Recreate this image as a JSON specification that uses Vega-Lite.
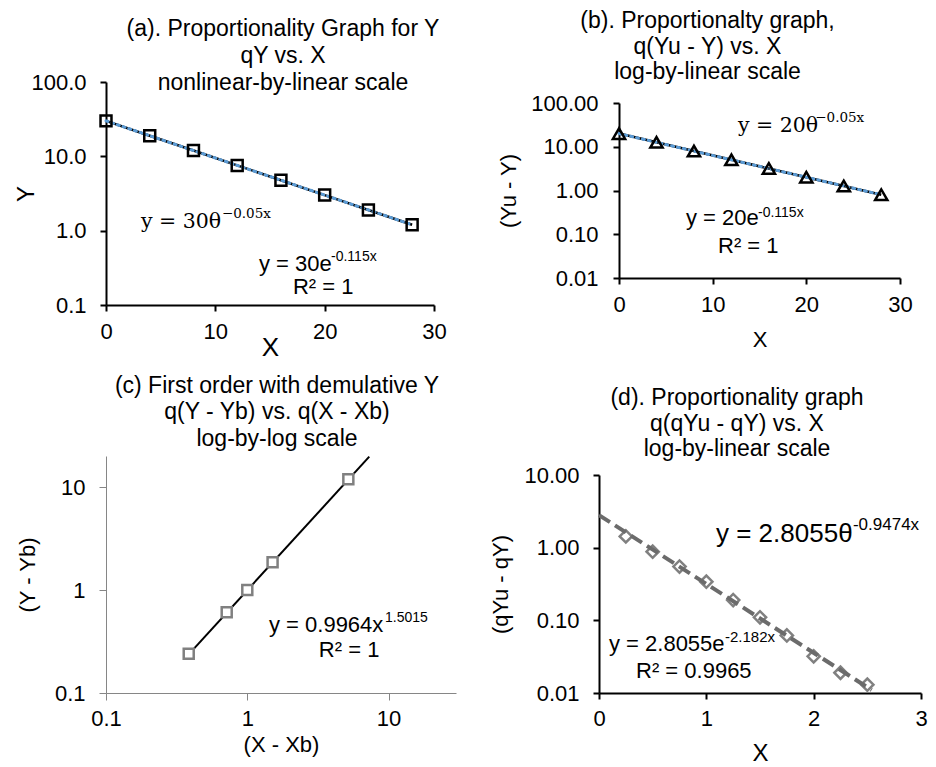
{
  "$schema": "https://vega.github.io/schema/vega-lite/v6.json",
  "background": "white",
  "padding": {"left": 14, "top": 10, "right": 5, "bottom": 5},
  "config": {
    "font": "Liberation Sans",
    "view": {"stroke": null},
    "axis": {"grid": false, "domainColor": "#000", "tickColor": "#000", "labelColor": "#000", "titleColor": "#000", "labelFontSize": 22, "titleFontSize": 22, "titleFontWeight": "normal", "domainWidth": 2, "tickWidth": 2, "tickSize": 6, "labelFlush": false, "labelOverlap": false},
    "title": {"fontSize": 23, "fontWeight": "normal", "color": "#000"}
  },
  "datasets": {
    "a_pts": [{"x": 0, "y": 30}, {"x": 4, "y": 18.94}, {"x": 8, "y": 11.96}, {"x": 12, "y": 7.55}, {"x": 16, "y": 4.77}, {"x": 20, "y": 3.01}, {"x": 24, "y": 1.9}, {"x": 28, "y": 1.2}],
    "b_pts": [{"x": 0, "y": 20}, {"x": 4, "y": 12.63}, {"x": 8, "y": 7.97}, {"x": 12, "y": 5.03}, {"x": 16, "y": 3.18}, {"x": 20, "y": 2.01}, {"x": 24, "y": 1.27}, {"x": 28, "y": 0.8}],
    "c_pts": [{"x": 0.385, "y": 0.24}, {"x": 0.715, "y": 0.607}, {"x": 1.0, "y": 1.0}, {"x": 1.51, "y": 1.86}, {"x": 5.19, "y": 11.9}],
    "c_fit": [{"x": 0.385, "y": 0.2375}, {"x": 7.3, "y": 19.7}],
    "d_pts": [{"x": 0.25, "y": 1.43}, {"x": 0.5, "y": 0.88}, {"x": 0.75, "y": 0.55}, {"x": 1.0, "y": 0.34}, {"x": 1.25, "y": 0.19}, {"x": 1.5, "y": 0.11}, {"x": 1.75, "y": 0.062}, {"x": 2.0, "y": 0.032}, {"x": 2.25, "y": 0.019}, {"x": 2.5, "y": 0.013}],
    "d_fit": [{"x": 0, "y": 2.8055}, {"x": 2.54, "y": 0.011}],
    "a_sans": [{"x": 13.99, "y": 0.2866, "t": "y = 30e", "k": "m"}, {"x": 20.58, "y": 0.391, "t": "-0.115x", "k": "s"}, {"x": 17.1, "y": 0.1406, "t": "R² = 1", "k": "m"}],
    "a_serif": [{"x": 3.2, "y": 1.086, "t": "y = 30θ", "k": "m"}, {"x": 10.6, "y": 1.48, "t": "−0.05x", "k": "s"}],
    "b_sans": [{"x": 7.15, "y": 0.1627, "t": "y = 20e", "k": "m"}, {"x": 14.84, "y": 0.248, "t": "-0.115x", "k": "s"}, {"x": 10.57, "y": 0.0373, "t": "R² = 1", "k": "m"}],
    "b_serif": [{"x": 12.7, "y": 21.7, "t": "y = 20θ", "k": "m"}, {"x": 20.95, "y": 36.8, "t": "−0.05x", "k": "s"}],
    "c_sans": [{"x": 1.424, "y": 0.391, "t": "y = 0.9964x", "k": "m"}, {"x": 9.43, "y": 0.489, "t": "1.5015", "k": "s"}, {"x": 3.21, "y": 0.224, "t": "R² = 1", "k": "m"}],
    "d_sans": [{"x": 0.093, "y": 0.0379, "t": "y = 2.8055e", "k": "m"}, {"x": 1.174, "y": 0.0504, "t": "-2.182x", "k": "s"}, {"x": 0.345, "y": 0.0161, "t": "R² = 0.9965", "k": "m"}, {"x": 1.09, "y": 1.197, "t": "y = 2.8055θ", "k": "M"}, {"x": 2.366, "y": 1.75, "t": "-0.9474x", "k": "S"}]
  },
  "columns": 2,
  "align": "all",
  "bounds": "flush",
  "spacing": {"row": 137, "column": 143},
  "concat": [
    {
      "width": 328, "height": 223,
      "title": {"text": ["(a). Proportionality Graph for Y", "qY vs. X", "nonlinear-by-linear scale"], "lineHeight": 27, "frame": "group", "dx": 13, "offset": -24},
      "encoding": {
        "x": {"field": "x", "type": "quantitative", "scale": {"domain": [0, 30], "nice": false, "zero": false}, "axis": {"values": [0, 10, 20, 30], "title": "X", "titleFontSize": 26, "labelPadding": 10, "titlePadding": -8}},
        "y": {"field": "y", "type": "quantitative", "scale": {"type": "log", "domain": [0.1, 100], "nice": false}, "axis": {"values": [0.1, 1, 10, 100], "format": ".1f", "title": "Y", "titleFontSize": 24, "labelPadding": 14, "titlePadding": -8}}
      },
      "layer": [
        {"data": {"name": "a_pts"}, "mark": {"type": "line", "color": "#000", "strokeWidth": 2.5}},
        {"data": {"name": "a_pts"}, "mark": {"type": "line", "color": "#5B9BD5", "strokeWidth": 3, "strokeDash": [2, 4], "strokeCap": "round"}},
        {"data": {"name": "a_pts"}, "mark": {"type": "point", "shape": "square", "size": 120, "stroke": "#000", "strokeWidth": 2.5, "filled": false, "opacity": 1}},
        {"data": {"name": "a_sans"}, "transform": [{"filter": "datum.k == 'm'"}], "mark": {"type": "text", "align": "left", "baseline": "alphabetic", "fontSize": 22, "color": "#000"}, "encoding": {"text": {"field": "t"}}},
        {"data": {"name": "a_sans"}, "transform": [{"filter": "datum.k == 's'"}], "mark": {"type": "text", "align": "left", "baseline": "alphabetic", "fontSize": 14, "color": "#000"}, "encoding": {"text": {"field": "t"}}},
        {"data": {"name": "a_serif"}, "transform": [{"filter": "datum.k == 'm'"}], "mark": {"type": "text", "align": "left", "baseline": "alphabetic", "fontSize": 20.5, "font": "DejaVu Serif", "color": "#000"}, "encoding": {"text": {"field": "t"}}},
        {"data": {"name": "a_serif"}, "transform": [{"filter": "datum.k == 's'"}], "mark": {"type": "text", "align": "left", "baseline": "alphabetic", "fontSize": 13.5, "font": "DejaVu Serif", "color": "#000"}, "encoding": {"text": {"field": "t"}}}
      ]
    },
    {
      "width": 301, "height": 196,
      "title": {"text": ["(b). Proportionalty graph,", "q(Yu - Y) vs. X", "log-by-linear scale"], "lineHeight": 25.5, "frame": "group", "dx": -42, "offset": -2},
      "encoding": {
        "x": {"field": "x", "type": "quantitative", "scale": {"domain": [0, 30], "nice": false, "zero": false, "range": [20, 301]}, "axis": {"values": [0, 10, 20, 30], "title": "X", "labelPadding": 10, "titlePadding": 14}},
        "y": {"field": "y", "type": "quantitative", "scale": {"type": "log", "domain": [0.01, 100], "nice": false, "range": [196, 21]}, "axis": {"values": [0.01, 0.1, 1, 10, 100], "format": ".2f", "title": "(Yu - Y)", "labelPadding": 15, "titlePadding": 10, "offset": -20}}
      },
      "layer": [
        {"data": {"name": "b_pts"}, "mark": {"type": "line", "color": "#000", "strokeWidth": 2.5}},
        {"data": {"name": "b_pts"}, "mark": {"type": "line", "color": "#5B9BD5", "strokeWidth": 3, "strokeDash": [2, 4], "strokeCap": "round"}},
        {"data": {"name": "b_pts"}, "mark": {"type": "point", "shape": "triangle-up", "size": 150, "stroke": "#000", "strokeWidth": 2.5, "filled": false, "opacity": 1}},
        {"data": {"name": "b_sans"}, "transform": [{"filter": "datum.k == 'm'"}], "mark": {"type": "text", "align": "left", "baseline": "alphabetic", "fontSize": 22, "color": "#000"}, "encoding": {"text": {"field": "t"}}},
        {"data": {"name": "b_sans"}, "transform": [{"filter": "datum.k == 's'"}], "mark": {"type": "text", "align": "left", "baseline": "alphabetic", "fontSize": 14, "color": "#000"}, "encoding": {"text": {"field": "t"}}},
        {"data": {"name": "b_serif"}, "transform": [{"filter": "datum.k == 'm'"}], "mark": {"type": "text", "align": "left", "baseline": "alphabetic", "fontSize": 20.5, "font": "DejaVu Serif", "color": "#000"}, "encoding": {"text": {"field": "t"}}},
        {"data": {"name": "b_serif"}, "transform": [{"filter": "datum.k == 's'"}], "mark": {"type": "text", "align": "left", "baseline": "alphabetic", "fontSize": 13.5, "font": "DejaVu Serif", "color": "#000"}, "encoding": {"text": {"field": "t"}}}
      ]
    },
    {
      "width": 350, "height": 237,
      "title": {"text": ["(c) First order with demulative Y", "q(Y - Yb) vs. q(X - Xb)", "log-by-log scale"], "lineHeight": 26.5, "frame": "group", "dx": -4, "offset": 2},
      "encoding": {
        "x": {"field": "x", "type": "quantitative", "scale": {"type": "log", "domain": [0.1, 30], "nice": false}, "axis": {"values": [0.1, 1, 10], "format": "~g", "title": "(X - Xb)", "domainColor": "#868686", "tickColor": "#868686", "domainWidth": 1, "tickWidth": 1, "tickSize": 7, "labelPadding": 8, "titlePadding": 5}},
        "y": {"field": "y", "type": "quantitative", "scale": {"type": "log", "domain": [0.1, 20], "nice": false}, "axis": {"values": [0.1, 1, 10], "format": "~g", "title": "(Y - Yb)", "domainColor": "#868686", "tickColor": "#868686", "domainWidth": 1, "tickWidth": 1, "tickSize": 7, "labelPadding": 14, "titlePadding": 15}}
      },
      "layer": [
        {"data": {"name": "c_fit"}, "mark": {"type": "line", "color": "#000", "strokeWidth": 2}},
        {"data": {"name": "c_pts"}, "mark": {"type": "point", "shape": "square", "size": 100, "stroke": "#808080", "fill": "white", "strokeWidth": 2.5, "filled": true, "opacity": 1}},
        {"data": {"name": "c_sans"}, "transform": [{"filter": "datum.k == 'm'"}], "mark": {"type": "text", "align": "left", "baseline": "alphabetic", "fontSize": 22, "color": "#000"}, "encoding": {"text": {"field": "t"}}},
        {"data": {"name": "c_sans"}, "transform": [{"filter": "datum.k == 's'"}], "mark": {"type": "text", "align": "left", "baseline": "alphabetic", "fontSize": 14, "color": "#000"}, "encoding": {"text": {"field": "t"}}}
      ]
    },
    {
      "width": 322, "height": 237,
      "title": {"text": ["(d). Proportionality graph", "q(qYu - qY) vs. X", "log-by-linear scale"], "lineHeight": 25.5, "frame": "group", "dx": -23, "offset": -5},
      "encoding": {
        "x": {"field": "x", "type": "quantitative", "scale": {"domain": [0, 3], "nice": false, "zero": false}, "axis": {"values": [0, 1, 2, 3], "title": "X", "titleFontSize": 24, "labelPadding": 9, "titlePadding": 12}},
        "y": {"field": "y", "type": "quantitative", "scale": {"type": "log", "domain": [0.01, 10], "nice": false, "range": [237, 19]}, "axis": {"values": [0.01, 0.1, 1, 10], "format": ".2f", "title": "(qYu - qY)", "labelPadding": 14, "titlePadding": 11}}
      },
      "layer": [
        {"data": {"name": "d_pts"}, "mark": {"type": "point", "shape": "diamond", "size": 150, "stroke": "#808080", "strokeWidth": 2.5, "filled": false, "opacity": 1}},
        {"data": {"name": "d_fit"}, "mark": {"type": "line", "color": "#6b6b6b", "strokeWidth": 4, "strokeDash": [13, 6]}},
        {"data": {"name": "d_sans"}, "transform": [{"filter": "datum.k == 'm'"}], "mark": {"type": "text", "align": "left", "baseline": "alphabetic", "fontSize": 22, "color": "#000"}, "encoding": {"text": {"field": "t"}}},
        {"data": {"name": "d_sans"}, "transform": [{"filter": "datum.k == 's'"}], "mark": {"type": "text", "align": "left", "baseline": "alphabetic", "fontSize": 15, "color": "#000"}, "encoding": {"text": {"field": "t"}}},
        {"data": {"name": "d_sans"}, "transform": [{"filter": "datum.k == 'M'"}], "mark": {"type": "text", "align": "left", "baseline": "alphabetic", "fontSize": 26, "color": "#000"}, "encoding": {"text": {"field": "t"}}},
        {"data": {"name": "d_sans"}, "transform": [{"filter": "datum.k == 'S'"}], "mark": {"type": "text", "align": "left", "baseline": "alphabetic", "fontSize": 17, "color": "#000"}, "encoding": {"text": {"field": "t"}}}
      ]
    }
  ]
}
